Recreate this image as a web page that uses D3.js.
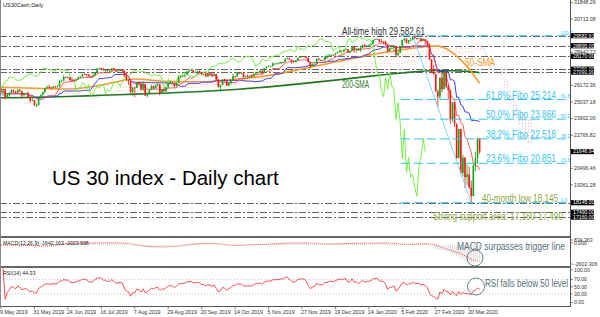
<!DOCTYPE html>
<meta charset="utf-8">
<html lang="en">
<head>
<style>
  body { margin: 0; background: #fff; }
  svg { display: block; font-family: "Liberation Sans", Arial, sans-serif; }
</style>
</head>
<body>
<svg width="600" height="317"></svg>
<script src="https://cdn.jsdelivr.net/npm/d3@7/dist/d3.min.js"></script>
<script>

// daily closes US30Cash, 9 May 2019 .. 27 Mar 2020 (weekdays, no 25 Dec / 1 Jan)
var closes = [
  25828, 25942, 25324, 25532, 25648, 25862, 25764, 25679, 25877, 25776, 25490, 25585, 25600, 25347, 25126, 25169, 24815,
  24820, 25332, 25540, 25720, 25984, 26062, 26048, 26004, 26107, 26090, 26112, 26465, 26504, 26753, 26719, 26727, 26548, 26537, 26527, 26600,
  26718, 26787, 26966, 26950, 26922, 26806, 26784, 26860, 27088, 27332, 27359, 27336, 27220, 27223, 27154, 27172, 27350, 27270, 27141, 27193, 27222, 27199, 26864,
  26583, 26485, 25718, 26030, 26008, 26379, 26287, 25897, 26280, 25480, 25579, 25886, 26136, 25962, 26202, 26252, 25629, 25899, 25778, 26036, 26363, 26403,
  26350, 26118, 26356, 26728, 26797, 26835, 26909, 27137, 27182, 27220, 27076, 27111, 27147, 27094, 26935, 26950, 26808, 26971, 26891, 26820, 26917,
  26573, 26079, 26202, 26573, 26478, 26164, 26347, 26497, 26817, 26787, 27025, 27001, 27026, 26770, 26828, 26788, 26834, 26806, 26958, 27091, 27071, 27186, 27046,
  27347, 27462, 27492, 27492, 27675, 27681, 27691, 27691, 27784, 27782, 28005, 28036, 27934, 27821, 27766, 27876, 28066, 28122, 28164, 28150, 28051,
  27783, 27503, 27650, 27677, 28015, 27909, 27881, 27911, 28132, 28135, 28235, 28267, 28239, 28377, 28455, 28551, 28515, 28621, 28645, 28462, 28538,
  28868, 28634, 28703, 28583, 28745, 28956, 28824, 28907, 28940, 29030, 29298, 29348, 29350, 29196, 29186, 29160, 28990, 28535, 28723, 28734, 28859, 28256,
  28400, 28807, 29290, 29380, 29103, 29276, 29276, 29551, 29424, 29398, 29400, 29232, 29348, 29219, 28992, 27961, 27081, 26957, 25766, 25409,
  26703, 25917, 27091, 26121, 25865, 23851, 25018, 23553, 21200, 23186, 20189, 21237, 19899, 20087, 19174, 18592, 20705, 21200, 22552, 21637
];
var highs = [
  26000, 25960, 25700, 25640, 25700, 25940, 25900, 25780, 25920, 25900, 25760, 25680, 25660, 25760, 25330, 25300, 25000,
  24960, 25340, 25560, 25760, 26010, 26180, 26220, 26060, 26140, 26130, 26190, 26560, 26580, 26900, 26800, 26780, 26740, 26680, 26620, 26660,
  26800, 26800, 26980, 26990, 26960, 26900, 26830, 27000, 27100, 27340, 27400, 27390, 27340, 27260, 27300, 27200, 27360, 27370, 27280, 27220, 27250, 27240, 27230,
  27100, 26600, 26400, 26060, 26100, 26400, 26420, 26300, 26490, 26170, 25720, 25900, 26220, 26150, 26230, 26430, 26270, 25930, 26050, 26100, 26420, 26520,
  26420, 26340, 26380, 26860, 26850, 26900, 26920, 27150, 27300, 27260, 27170, 27140, 27150, 27200, 27100, 26990, 27050, 27000, 27000, 27010, 26990,
  27000, 26580, 26220, 26600, 26640, 26470, 26400, 26580, 27000, 26810, 27110, 27050, 27120, 27020, 26860, 26940, 26850, 26880, 26980, 27130, 27120, 27200, 27200,
  27380, 27510, 27570, 27520, 27770, 27690, 27700, 27780, 27800, 27800, 28020, 28090, 28070, 27940, 27860, 27900, 28090, 28140, 28180, 28170, 28160,
  28110, 27790, 27700, 27700, 28030, 28020, 27960, 27930, 28220, 28290, 28340, 28340, 28300, 28380, 28490, 28600, 28560, 28630, 28700, 28660, 28560,
  28880, 28870, 28720, 28730, 28870, 28970, 29000, 28910, 29010, 29050, 29300, 29380, 29370, 29360, 29370, 29200, 29240, 28630, 28770, 28930, 28900, 28900,
  28600, 28860, 29320, 29410, 29370, 29290, 29420, 29582.61, 29540, 29440, 29420, 29410, 29410, 29370, 29230, 28400, 28000, 27580, 26960, 25900,
  26710, 27080, 27100, 26920, 26200, 24990, 25020, 24600, 22830, 23190, 21900, 21430, 21100, 20800, 20620, 19660, 20750, 21650, 22600, 22560
];
var lows = [
  25550, 25450, 25222, 25300, 25350, 25640, 25660, 25570, 25670, 25740, 25330, 25480, 25560, 25330, 24990, 25090, 24780,
  24680, 24800, 25250, 25490, 25650, 25970, 25980, 25900, 25990, 25980, 26030, 26080, 26360, 26480, 26690, 26650, 26500, 26470, 26460, 26480,
  26580, 26660, 26780, 26930, 26780, 26760, 26690, 26760, 26850, 27080, 27280, 27290, 27200, 27060, 27130, 27100, 27160, 27240, 27100, 27130, 27150, 27100, 26760,
  26480, 26200, 25620, 25450, 25380, 26000, 26130, 25820, 25780, 25450, 25340, 25570, 25890, 25930, 26000, 26080, 25500, 25700, 25760, 25750, 26050, 26300,
  26320, 26050, 26160, 26480, 26700, 26760, 26700, 26910, 27080, 27150, 27010, 27020, 26930, 27070, 26900, 26850, 26750, 26720, 26800, 26750, 26810,
  26520, 26050, 25750, 26200, 26420, 26140, 26200, 26250, 26510, 26700, 26800, 26940, 26960, 26710, 26780, 26760, 26690, 26720, 26740, 26980, 27000, 26990, 26900,
  27100, 27360, 27430, 27420, 27560, 27570, 27600, 27650, 27650, 27700, 27820, 27960, 27920, 27680, 27700, 27780, 27900, 28050, 28110, 28130, 28040,
  27740, 27330, 27510, 27580, 27690, 27900, 27850, 27850, 27890, 27970, 28170, 28240, 28220, 28230, 28380, 28470, 28500, 28530, 28610, 28420, 28380,
  28560, 28420, 28410, 28560, 28470, 28830, 28800, 28780, 28850, 28900, 29060, 29270, 29300, 29080, 29150, 28990, 28860, 28400, 28520, 28680, 28530, 28200,
  28180, 28410, 28850, 29200, 29060, 29010, 29240, 29280, 29360, 29310, 29380, 29140, 29240, 28940, 28850, 27900, 27050, 26900, 25740, 24680,
  25200, 25700, 25950, 26000, 25220, 23550, 23700, 23330, 21150, 21320, 20100, 19940, 19150, 19330, 19100, 18145, 19140, 20300, 20800, 21470
];
var firstOpen = 25967;
var skipDays = ["2019-12-25", "2020-01-01"];

// moving averages at every 16th bar
var smaIdx = [0, 16, 32, 48, 64, 80, 96, 112, 128, 144, 160, 176, 192, 208, 224, 229];
var sma50 = [26050, 25980, 25930, 26200, 26620, 26450, 26430, 26600, 26860, 27300, 27780, 28250, 28620, 28880, 27300, 26320];
var sma200 = [25330, 25360, 25420, 25500, 25580, 25660, 25760, 25900, 26080, 26300, 26540, 26800, 27030, 27200, 27140, 27050];

var priceTicks = [31848.26, 30713.08, 28442.72, 26172.36, 25037.18, 23902.00, 22766.82, 20496.46, 19361.28];
var levelLines = [29582.61, 28895, 28170, 27291, 27091, 18145, 17490, 17160];
var priceBoxes = [29582.61, 28895, 28170, 27291, 27091, 21646.94, 18145, 17490, 17160];
var fibLevels = [23.6, 38.2, 50.0, 61.8];
var fibNames = ["23.6% Fibo 20,851", "38.2% Fibo 22,518", "50.0% Fibo 23,866", "61.8% Fibo 25,214"];
var macdTicks = [834.363, 0, -2602.306];
var rsiTicks = [100, 70, 50, 30, 0];
var macdHeader = "MACD(12,26,9) -1642.163 -2023.998";
var rsiHeader = "RSI(14) 44.33";

var svg = d3.select("svg");
var plotR = 570;
var step = 2.09;

var x = d3.scaleLinear().domain([0, closes.length - 1]).range([1, 1 + (closes.length - 1) * step]);
var y = d3.scaleLinear().domain([15864, 32028]).range([236, 0]);
var yMacd = d3.scaleLinear().domain([-2602.306, 834.363]).range([265.5, 238.5]);
var yRsi = d3.scaleLinear().domain([0, 100]).range([305, 268.5]);

// dates
var fmtKey = d3.timeFormat("%Y-%m-%d");
var dates = [];
var dd = new Date(2019, 4, 9);
while (dates.length < closes.length) {
  var wd = dd.getDay();
  if (wd !== 0 && wd !== 6 && skipDays.indexOf(fmtKey(dd)) < 0) dates.push(new Date(dd));
  dd.setDate(dd.getDate() + 1);
}

var bars = closes.map(function(c, i) {
  var o = i ? closes[i - 1] : firstOpen;
  return { i: i, o: o, c: c, h: Math.max(highs[i], o, c), l: Math.min(lows[i], o, c) };
});

function midRange(i, n) {
  var s = bars.slice(Math.max(0, i - n + 1), i + 1);
  return (d3.max(s, function(d) { return d.h; }) + d3.min(s, function(d) { return d.l; })) / 2;
}
var tenkan = bars.map(function(d) { return midRange(d.i, 9); });
var kijun = bars.map(function(d) { return midRange(d.i, 26); });
var cloud = bars.map(function(d) {
  return { i: d.i + 26, a: (tenkan[d.i] + kijun[d.i]) / 2, b: midRange(d.i, 52) };
});

function ema(arr, n) {
  var k = 2 / (n + 1), out = [arr[0]];
  for (var i = 1; i < arr.length; i++) out.push(arr[i] * k + out[i - 1] * (1 - k));
  return out;
}
var e12 = ema(closes, 12), e26 = ema(closes, 26);
var macd = closes.map(function(c, i) { return e12[i] - e26[i]; });
var signal = macd.map(function(m, i) { return d3.mean(macd.slice(Math.max(0, i - 8), i + 1)); });

var rsi = [null];
var ag = 0, al = 0;
for (var i = 1; i < closes.length; i++) {
  var ch = closes[i] - closes[i - 1];
  var g = ch > 0 ? ch : 0, l = ch < 0 ? -ch : 0;
  var n = Math.min(i, 14);
  ag = (ag * (n - 1) + g) / n;
  al = (al * (n - 1) + l) / n;
  rsi.push(al === 0 ? 100 : 100 - 100 / (1 + ag / al));
}

// defs
var defs = svg.append("defs");
[["clipMain", 0, 0, plotR, 236], ["clipMacd", 0, 238, plotR, 28], ["clipRsi", 0, 268, plotR, 38]].forEach(function(c) {
  defs.append("clipPath").attr("id", c[0]).append("rect")
    .attr("x", c[1]).attr("y", c[2]).attr("width", c[3]).attr("height", c[4]);
});
[["dotPink", "#f7aacd"], ["dotPeach", "#f8d4b4"]].forEach(function(p) {
  defs.append("pattern").attr("id", p[0]).attr("width", 3).attr("height", 3)
    .attr("patternUnits", "userSpaceOnUse")
    .append("rect").attr("width", 1).attr("height", 1).attr("fill", p[1]);
});

svg.append("rect").attr("width", 600).attr("height", 317).attr("fill", "#fff");

var main = svg.append("g").attr("clip-path", "url(#clipMain)");

// ichimoku cloud
main.append("path").datum(cloud)
  .attr("fill", "url(#dotPeach)")
  .attr("d", d3.area().x(function(d) { return x(d.i); })
    .y0(function(d) { return y(d.b); }).y1(function(d) { return y(Math.max(d.a, d.b)); }));
main.append("path").datum(cloud)
  .attr("fill", "url(#dotPink)")
  .attr("d", d3.area().x(function(d) { return x(d.i); })
    .y0(function(d) { return y(d.a); }).y1(function(d) { return y(Math.max(d.a, d.b)); }));
main.append("path").datum(cloud)
  .attr("fill", "none").attr("stroke", "#f6cfa8").attr("stroke-width", 0.7).attr("stroke-dasharray", "1,2")
  .attr("d", d3.line().x(function(d) { return x(d.i); }).y(function(d) { return y(d.a); }));
main.append("path").datum(cloud)
  .attr("fill", "none").attr("stroke", "#f4a8cc").attr("stroke-width", 0.7).attr("stroke-dasharray", "1,2")
  .attr("d", d3.line().x(function(d) { return x(d.i); }).y(function(d) { return y(d.b); }));

// horizontal levels
main.selectAll(".lvl").data(levelLines).enter().append("line")
  .attr("x1", 0).attr("x2", plotR)
  .attr("y1", function(d) { return Math.round(y(d)) + 0.5; })
  .attr("y2", function(d) { return Math.round(y(d)) + 0.5; })
  .attr("stroke", "#555").attr("stroke-width", 0.9).attr("stroke-dasharray", "7,2,2,2");

// moving averages
var smaLine = function(vals) {
  return d3.line().curve(d3.curveMonotoneX)
    .x(function(d, k) { return x(smaIdx[k]); })
    .y(function(d) { return y(d); })(vals);
};
main.append("path").attr("d", smaLine(sma200)).attr("fill", "none").attr("stroke", "#1e7a1e").attr("stroke-width", 1.6);
main.append("path").attr("d", smaLine(sma50)).attr("fill", "none").attr("stroke", "#ff9922").attr("stroke-width", 1.6);

var idxLine = d3.line().x(function(d, k) { return x(k); }).y(function(d) { return y(d); });
main.append("path").attr("d", idxLine(kijun)).attr("fill", "none").attr("stroke", "#3a3aff").attr("stroke-width", 1);
main.append("path").attr("d", idxLine(tenkan)).attr("fill", "none").attr("stroke", "#ff4a4a").attr("stroke-width", 0.9);
main.append("path").datum(closes.slice(26))
  .attr("d", idxLine).attr("fill", "none").attr("stroke", "#66ee33").attr("stroke-width", 0.9);

// candles
var up = "#12a812", down = "#ff1414";
var cg = main.selectAll(".bar").data(bars).enter().append("g");
cg.append("line")
  .attr("x1", function(d) { return x(d.i); }).attr("x2", function(d) { return x(d.i); })
  .attr("y1", function(d) { return y(d.h); }).attr("y2", function(d) { return y(d.l); })
  .attr("stroke", function(d) { return d.c >= d.o ? up : down; }).attr("stroke-width", 0.8);
cg.append("rect")
  .attr("x", function(d) { return x(d.i) - 0.8; }).attr("width", 1.6)
  .attr("y", function(d) { return y(Math.max(d.o, d.c)); })
  .attr("height", function(d) { return Math.max(0.8, Math.abs(y(d.o) - y(d.c))); })
  .attr("fill", function(d) { return d.c >= d.o ? up : down; });

// fibonacci
var hiI = d3.maxIndex(highs), loI = d3.minIndex(lows);
var ath = highs[hiI], lo = lows[loI];
var fibCol = "#33c4f2";
var fibX0 = x(hiI) - 12;
main.append("line").attr("x1", x(hiI)).attr("y1", y(ath)).attr("x2", x(loI)).attr("y2", y(lo))
  .attr("stroke", "#6fd0f5").attr("stroke-width", 0.9);
main.selectAll(".fib").data([0, 23.6, 38.2, 50, 61.8, 100]).enter().append("line")
  .attr("x1", fibX0).attr("x2", plotR)
  .attr("y1", function(d) { return y(lo + (ath - lo) * d / 100); })
  .attr("y2", function(d) { return y(lo + (ath - lo) * d / 100); })
  .attr("stroke", fibCol).attr("stroke-width", 1).attr("stroke-dasharray", "9,4");

var fibG = svg.append("g");
fibG.selectAll(".fibTxt").data(fibLevels).enter().append("text")
  .attr("x", 486).attr("y", function(d) { return y(lo + (ath - lo) * d / 100) - 0.8; })
  .attr("font-size", 10.5).attr("fill", fibCol)
  .attr("textLength", 70).attr("lengthAdjust", "spacingAndGlyphs")
  .text(function(d, k) { return fibNames[k]; });
fibG.selectAll(".fibLab").data([0, 23.6, 38.2, 50, 61.8, 100]).enter().append("text")
  .attr("x", 561).attr("y", function(d) { return y(lo + (ath - lo) * d / 100) - 1; })
  .attr("font-size", 4.6).attr("fill", fibCol)
  .text(function(d) { return d.toFixed(1); });

// annotations
function note(str, px, py, size, col, len) {
  var t = svg.append("text").attr("x", px).attr("y", py).attr("font-size", size).attr("fill", col).text(str);
  if (len) t.attr("textLength", len).attr("lengthAdjust", "spacingAndGlyphs");
  return t;
}
note("All-time high 29,582.61", 342, 34.5, 10, "#333", 83);
note("50-SMA", 465, 66, 10, "#ff9922", 30);
note("200-SMA", 342, 88, 10, "#2a7a2a", 27);
note("40-month low 18,145", 482, y(lo) - 0.5, 10, "#8aa83a", 76);
note("Strong support area: 17,160-17,490", 433, 220, 10, "#8aa83a", 130);
note("US 30 index - Daily chart", 52, 185, 20.5, "#000");
note("US30Cash,Daily", 3, 7, 5.5, "#222");

// panel separators & frame
svg.append("rect").attr("x", 0).attr("y", 236).attr("width", plotR).attr("height", 2).attr("fill", "#666");
svg.append("rect").attr("x", 0).attr("y", 266).attr("width", plotR).attr("height", 2).attr("fill", "#666");
svg.append("line").attr("x1", 0).attr("x2", plotR).attr("y1", 306.5).attr("y2", 306.5).attr("stroke", "#555");
svg.append("line").attr("x1", plotR + 0.5).attr("x2", plotR + 0.5).attr("y1", 0).attr("y2", 307).attr("stroke", "#555");
svg.append("line").attr("x1", 0.5).attr("x2", 0.5).attr("y1", 0).attr("y2", 307).attr("stroke", "#888");

// MACD panel
var mg = svg.append("g").attr("clip-path", "url(#clipMacd)");
mg.selectAll(".hist").data(macd).enter().append("line")
  .attr("x1", function(d, k) { return x(k); }).attr("x2", function(d, k) { return x(k); })
  .attr("y1", yMacd(0)).attr("y2", function(d) { return yMacd(d); })
  .attr("stroke", "#cfcfcf").attr("stroke-width", 0.8);
mg.append("path").attr("d", d3.line().x(function(d, k) { return x(k); }).y(function(d) { return yMacd(d); })(signal))
  .attr("fill", "none").attr("stroke", "#ff3030").attr("stroke-width", 0.9).attr("stroke-dasharray", "1,1");
note(macdHeader, 3, 245, 5.2, "#222");

// RSI panel
var rg = svg.append("g").attr("clip-path", "url(#clipRsi)");
rg.selectAll(".rl").data([70, 30]).enter().append("line")
  .attr("x1", 0).attr("x2", plotR).attr("y1", function(d) { return yRsi(d); }).attr("y2", function(d) { return yRsi(d); })
  .attr("stroke", "#aaa").attr("stroke-width", 0.7).attr("stroke-dasharray", "1,2");
rg.append("path")
  .attr("d", d3.line().defined(function(d) { return d !== null; })
    .x(function(d, k) { return x(k); }).y(function(d) { return yRsi(d); })(rsi))
  .attr("fill", "none").attr("stroke", "#ff3a3a").attr("stroke-width", 0.9);
note(rsiHeader, 3, 275, 5.2, "#222");

// circles + comments
var noteCol = "#56707c";
svg.append("circle").attr("cx", 475).attr("cy", 258).attr("r", 8).attr("fill", "none").attr("stroke", noteCol).attr("stroke-width", 0.9);
svg.append("circle").attr("cx", 476).attr("cy", 286.5).attr("r", 8.5).attr("fill", "none").attr("stroke", noteCol).attr("stroke-width", 0.9);
note("MACD surpasses trigger line", 457, 250, 10, noteCol, 108);
note("RSI falls below 50 level", 485, 287, 10, noteCol, 83);

// right price axis
var ax = svg.append("g").attr("font-size", 5.2).attr("fill", "#333");
function tick(yy, label) {
  ax.append("line").attr("x1", plotR).attr("x2", plotR + 3).attr("y1", yy).attr("y2", yy).attr("stroke", "#555").attr("stroke-width", 0.7);
  ax.append("text").attr("x", plotR + 4).attr("y", yy + 1.8).text(label);
}
priceTicks.forEach(function(p) { tick(y(p), p.toFixed(2)); });
priceBoxes.forEach(function(p) {
  var yy = y(p);
  ax.append("rect").attr("x", plotR + 1).attr("y", yy - 2.6).attr("width", 23).attr("height", 5.2).attr("fill", "#000");
  ax.append("text").attr("x", plotR + 3).attr("y", yy + 1.8).attr("fill", "#fff").text(p.toFixed(2));
});
tick(240, macdTicks[0].toFixed(3));
tick(243, macdTicks[1].toFixed(3));
tick(264, macdTicks[2].toFixed(3));
rsiTicks.forEach(function(v) {
  var yy = v === 100 ? 270 : v === 0 ? 302.5 : yRsi(v);
  tick(yy, v.toFixed(2));
});

// date axis
var fmtDate = d3.timeFormat("%-d %b %Y");
var lab = d3.range(0, closes.length, 16);
var dx = svg.append("g").attr("font-size", 5.3).attr("fill", "#333");
lab.forEach(function(k) {
  dx.append("line").attr("x1", x(k)).attr("x2", x(k)).attr("y1", 306).attr("y2", 309).attr("stroke", "#555").attr("stroke-width", 0.7);
  dx.append("text").attr("x", Math.max(0, x(k) - 1)).attr("y", 313.5).text(fmtDate(dates[k]));
});

</script>
</body>
</html>
